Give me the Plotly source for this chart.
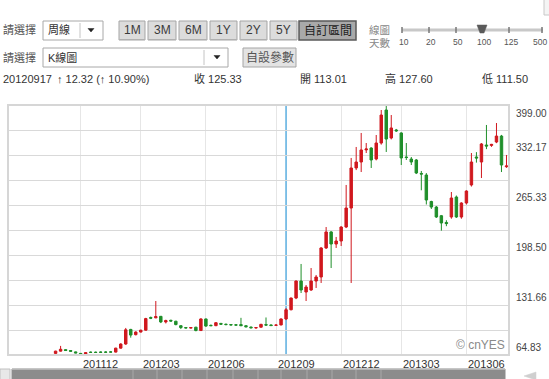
import pandas as pd
import plotly.graph_objects as go

# ---------------- data (weekly K-line, one candle per week) ----------------
first_week = "2011-10-31"
opens = [67.0, 70.0, 72.0, 70.8, 69.0, 67.0, 66.2, 68.6, 68.6, 68.8, 68.8, 69.0, 68.7, 74.0, 79.5, 99.0,
         92.0, 95.5, 98.0, 115.0, 114.5, 116.5, 109.0, 111.2, 110.0, 104.0, 101.5, 100.8, 102.0, 97.5, 113.0,
         104.5, 104.0, 107.0, 106.0, 105.5, 105.2, 105.5, 104.0, 102.2, 101.0, 102.0, 105.5, 105.0, 104.5,
         105.0, 113.01, 125.33, 141.0, 163.7, 149.0, 151.7, 163.7, 169.1, 207.9, 229.3, 213.2, 217.2, 235.9,
         261.3, 314.8, 322.8, 339.0, 341.5, 326.8, 348.2, 392.3, 354.9, 365.6, 361.6, 329.5, 326.8, 325.5,
         307.5, 305.4, 270.0, 262.6, 251.0, 242.0, 249.3, 276.0, 249.3, 268.0, 292.1, 329.5, 322.8, 345.5,
         345.0, 349.5, 357.5, 316.5]
highs = [70.5, 77.0, 72.5, 71.2, 69.4, 67.3, 68.5, 69.5, 69.4, 69.6, 69.8, 70.2, 74.5, 80.5, 101.0, 99.8,
         96.5, 98.5, 114.5, 116.2, 137.0, 117.0, 112.0, 112.0, 110.5, 104.5, 102.3, 102.0, 102.5, 114.0, 113.5,
         105.5, 108.5, 107.8, 106.8, 106.2, 106.0, 114.5, 104.5, 102.8, 102.0, 106.5, 115.0, 105.8, 106.0,
         113.8, 127.60, 141.5, 164.5, 186.5, 158.4, 181.1, 171.8, 209.0, 235.9, 230.5, 222.6, 237.0, 292.1,
         328.2, 342.9, 361.6, 348.2, 342.5, 358.9, 392.3, 399.0, 385.6, 367.0, 362.5, 348.2, 329.5, 326.8,
         310.8, 308.0, 271.0, 264.0, 252.0, 245.0, 282.7, 278.0, 269.0, 285.0, 334.8, 336.0, 348.2, 372.3,
         347.0, 374.9, 359.0, 332.2]
lows = [66.5, 69.5, 70.5, 69.5, 67.2, 65.2, 64.83, 68.0, 68.0, 68.2, 68.2, 68.4, 68.2, 73.5, 78.5, 88.0,
        91.0, 95.0, 97.5, 112.8, 114.0, 107.5, 107.0, 109.5, 104.5, 99.5, 100.5, 100.2, 96.5, 97.0, 102.5,
        103.5, 103.5, 105.5, 104.5, 104.5, 104.3, 103.5, 101.8, 100.5, 100.0, 101.5, 104.0, 103.5, 103.8,
        104.5, 111.50, 124.5, 139.5, 147.7, 137.0, 150.5, 154.4, 161.1, 206.5, 181.1, 207.9, 210.5, 234.5,
        161.1, 312.0, 309.4, 334.8, 314.8, 325.0, 346.0, 336.2, 353.0, 363.0, 318.8, 325.5, 318.8, 306.7,
        285.0, 266.0, 260.0, 248.0, 231.0, 237.0, 247.0, 248.0, 247.0, 266.0, 290.0, 322.0, 301.4, 340.0,
        343.0, 348.0, 309.4, 315.0]
closes = [70.0, 72.5, 70.8, 69.8, 67.6, 65.8, 68.0, 68.3, 68.2, 68.4, 68.5, 68.7, 74.0, 79.5, 98.5, 91.5,
          95.5, 98.0, 113.5, 114.0, 116.2, 109.0, 110.8, 110.2, 105.5, 101.5, 101.0, 101.5, 97.5, 113.0, 103.5,
          104.0, 108.0, 106.0, 105.5, 105.0, 104.8, 104.0, 102.5, 101.2, 101.5, 105.8, 104.8, 104.2, 104.8,
          113.01, 125.33, 141.0, 163.7, 151.7, 155.7, 163.7, 169.1, 207.9, 229.3, 213.2, 217.2, 235.9, 261.3,
          314.8, 322.8, 338.9, 340.2, 325.5, 348.2, 385.6, 353.5, 368.3, 364.5, 328.2, 328.8, 322.8, 308.1,
          306.7, 272.0, 262.6, 249.3, 241.3, 240.5, 274.7, 249.3, 268.0, 284.0, 322.8, 328.2, 346.9, 344.2,
          346.3, 357.5, 318.8, 317.5]

dates = pd.date_range(first_week, periods=len(opens), freq="7D")

x_range = ["2011-08-25 12:00", "2013-07-25 12:00"]
y_min, y_max = 64.83, 399.00
y_labels = ["399.00", "332.17", "265.33", "198.50", "131.66", "64.83"]
y_label_vals = [399.00, 332.17, 265.33, 198.50, 131.66, 64.83]
y_grid = [y_min + (y_max - y_min) * k / 10 for k in range(11)]
x_tick_dates = ["2011-12-05", "2012-02-27", "2012-05-28", "2012-09-03", "2012-12-03", "2013-02-25", "2013-05-27"]
x_tick_text = ["201112", "201203", "201206", "201209", "201212", "201303", "201306"]
cursor_date = "2012-09-17"

buttons = ["1M", "3M", "6M", "1Y", "2Y", "5Y", "自訂區間"]
slider_labels = ["10", "20", "50", "100", "125", "500"]

# ---------------- geometry helpers (pixel -> paper) ----------------
W, H = 549, 379
L, R, T, B = 8, 509, 105, 355
FONT = "Liberation Sans, Arial, Noto Sans CJK TC, sans-serif"


def px(X):
    return (X - L) / (R - L)


def py(Y):
    return (B - Y) / (B - T)


shapes = []
annotations = []


def rect(x0, y0, x1, y1, fill, line="#a0a0a0", lw=1):
    shapes.append(dict(type="rect", xref="paper", yref="paper",
                       x0=px(x0), x1=px(x1), y0=py(y1), y1=py(y0),
                       fillcolor=fill, line=dict(color=line, width=lw), layer="above"))


def hline(x0, x1, y, color, lw=1):
    shapes.append(dict(type="line", xref="paper", yref="paper",
                       x0=px(x0), x1=px(x1), y0=py(y), y1=py(y),
                       line=dict(color=color, width=lw), layer="above"))


def vline(x, y0, y1, color, lw=1):
    shapes.append(dict(type="line", xref="paper", yref="paper",
                       x0=px(x), x1=px(x), y0=py(y0), y1=py(y1),
                       line=dict(color=color, width=lw), layer="above"))


def poly(points, fill):
    p = "M " + " L ".join(f"{px(a):.5f},{py(b):.5f}" for a, b in points) + " Z"
    shapes.append(dict(type="path", xref="paper", yref="paper", path=p,
                       fillcolor=fill, line=dict(color=fill, width=0.5), layer="above"))


def text(X, Y, s, size=11, color="#333333", anchor="left"):
    annotations.append(dict(xref="paper", yref="paper", x=px(X), y=py(Y), text=s,
                            showarrow=False, xanchor=anchor, yanchor="middle",
                            font=dict(family=FONT, size=size, color=color)))


# ---------------- header UI ----------------
# row 1
text(1, 30, "請選擇", 11, "#555555")
rect(43, 21, 103, 40, "#ffffff", "#a8a8a8")
vline(80, 23, 38, "#c4c4c4")
text(46, 30, "周線", 11, "#333333")
poly([(88, 28.5), (94, 28.5), (91, 32)], "#222222")

btn_x = [(119, 145), (148, 176), (179, 207), (210, 237), (240, 267), (270, 297), (299, 356)]
for (a, b), lab in zip(btn_x, buttons):
    if lab == "自訂區間":
        rect(a, 21, b, 40, "#a9a9a9", "#5a5a5a", 1.5)
        text((a + b) / 2, 30.5, lab, 12, "#222222", "center")
    else:
        rect(a, 21, b, 40, "#dcdcdc", "#a5a5a5")
        hline(a + 1, b - 1, 39.5, "#b0b0b0")
        text((a + b) / 2, 30.5, lab, 12, "#3a3a3a", "center")

text(367, 30, "線圖", 10.5, "#888888")
text(367, 43, "天數", 10.5, "#888888")
hline(402, 543, 30, "#c8c8c8", 3)
slider_x = [402, 429, 456, 482, 509, 542]
for sx, lab in zip(slider_x, slider_labels):
    vline(sx, 27, 33, "#777777", 1.5)
    text(min(sx + 2, 540), 41.5, lab, 8.5, "#555555", "center")
poly([(477, 25), (487, 25), (484, 33), (480, 33)], "#5a5a5a")
rect(544, -2, 556, 15, "#f4f4f4", "#c8c8c8")

# row 2
text(1, 57, "請選擇", 11, "#555555")
rect(43, 48, 228, 67, "#ffffff", "#a8a8a8")
vline(204, 50, 65, "#c4c4c4")
text(46, 57, "K線圖", 11, "#333333")
poly([(214, 55.5), (220, 55.5), (217, 59)], "#222222")
rect(243, 48, 296, 67, "#e3e3e3", "#a5a5a5")
text(269.5, 57.5, "自設參數", 12, "#555555", "center")

# row 3
text(1, 79, "20120917", 11, "#333333")
text(55, 79, "↑ 12.32 (↑ 10.90%)", 11, "#333333")
text(192, 79, "收 125.33", 11, "#333333")
text(298, 79, "開 113.01", 11, "#333333")
text(383, 79, "高 127.60", 11, "#333333")
text(480, 79, "低 111.50", 11, "#333333")

# ---------------- plot frame / labels ----------------
shapes.append(dict(type="rect", xref="paper", yref="paper", x0=0, x1=1, y0=0, y1=1,
                   line=dict(color="#d6d6d6", width=2), layer="above"))
shapes.append(dict(type="line", xref="x", yref="paper", x0=cursor_date, x1=cursor_date, y0=0, y1=1,
                   line=dict(color="#5aaee0", width=1.5), layer="below"))

for lab, v in zip(y_labels, y_label_vals):
    if lab == y_labels[0]:
        ya, ys = "top", -1
    else:
        ya, ys = "bottom", 0
    annotations.append(dict(xref="paper", yref="y", x=1, y=v, xshift=5, yshift=ys, text=lab,
                            showarrow=False, xanchor="left", yanchor=ya,
                            font=dict(family=FONT, size=10, color="#444444")))

for d, lab in zip(x_tick_dates, x_tick_text):
    annotations.append(dict(xref="x", yref="paper", x=d, y=0, yshift=-1, text=lab,
                            showarrow=False, xanchor="left", yanchor="top",
                            font=dict(family=FONT, size=11, color="#333333")))

annotations.append(dict(xref="paper", yref="paper", x=1, y=0, xshift=-2, yshift=1, text="© cnYES",
                        showarrow=False, xanchor="right", yanchor="bottom",
                        font=dict(family=FONT, size=12, color="#8a8a8a")))

# bottom navigator bar
rect(0, 369, 10, 382, "#e8e8e8", "#c0c0c0")
rect(12, 369, 505, 382, "#8c8c8c", "#8c8c8c")
hline(12, 505, 369.5, "#b5b5b5")
for bx in [133, 157, 182, 207, 233, 258, 281, 307, 332, 356, 381]:
    vline(bx, 370, 379, "#a8a8a8")
poly([(536, 372), (524, 376), (536, 380)], "#cfcfcf")

# ---------------- figure ----------------
fig = go.Figure(go.Candlestick(
    x=dates, open=opens, high=highs, low=lows, close=closes,
    increasing=dict(line=dict(color="#d0181e", width=1), fillcolor="#d0181e"),
    decreasing=dict(line=dict(color="#1f8f2a", width=1), fillcolor="#1f8f2a"),
    whiskerwidth=0, hoverinfo="skip", showlegend=False,
))

fig.update_layout(
    width=W, height=H,
    margin=dict(l=L, r=W - R, t=T, b=H - B, pad=0),
    paper_bgcolor="#ffffff", plot_bgcolor="#ffffff",
    font=dict(family=FONT, size=11, color="#333333"),
    shapes=shapes, annotations=annotations,
    xaxis=dict(type="date", range=x_range, tickvals=x_tick_dates, showticklabels=False,
               showgrid=True, gridcolor="#e6e6e6", gridwidth=1, zeroline=False,
               rangeslider=dict(visible=False), fixedrange=True, ticks=""),
    yaxis=dict(range=[y_min, y_max], tickvals=y_grid, showticklabels=False,
               showgrid=True, gridcolor="#d9d9d9", gridwidth=1, zeroline=False,
               fixedrange=True, ticks=""),
)

fig.write_html("out.html", config={"displayModeBar": False},
               post_script="document.body.style.margin='0';document.body.style.overflow='hidden';")
